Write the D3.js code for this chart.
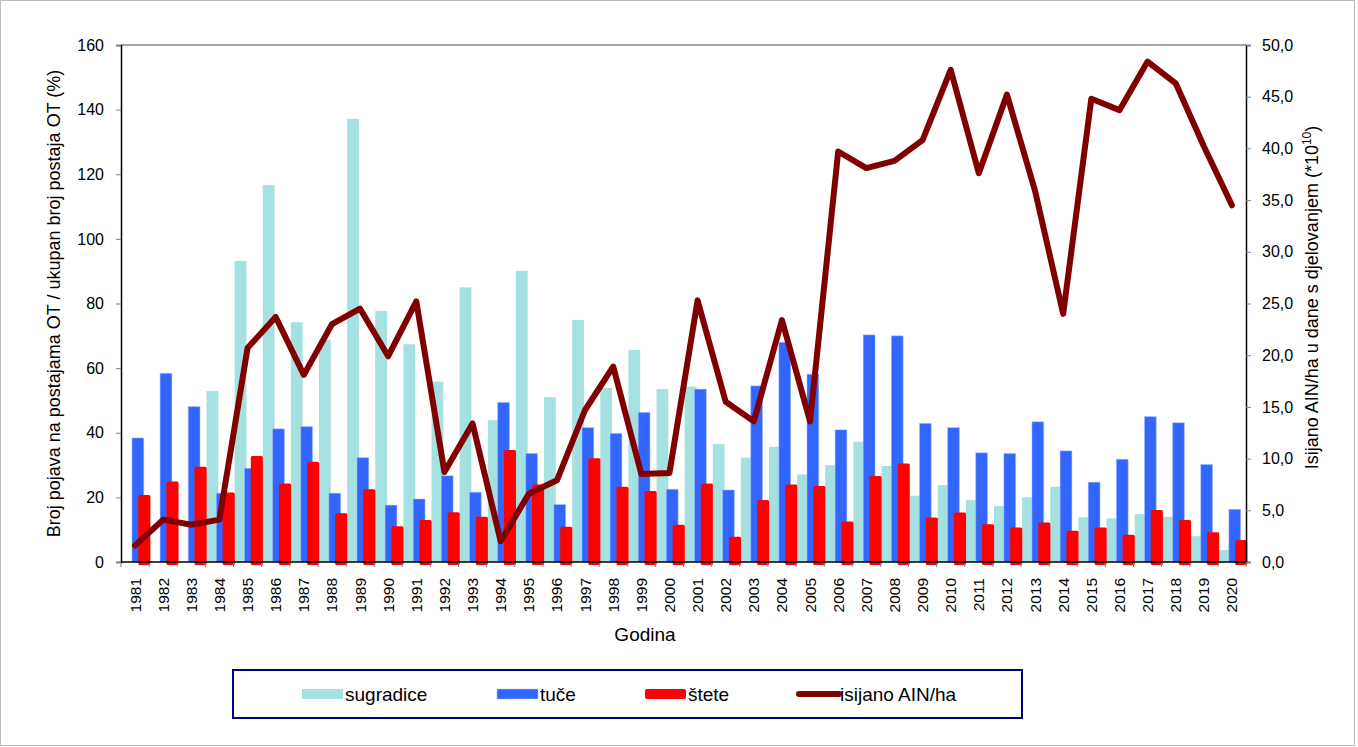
<!DOCTYPE html>
<html>
<head>
<meta charset="utf-8">
<script src="https://cdn.jsdelivr.net/npm/d3@7"></script>
<style>
  body { margin: 0; background: #fff; }
  svg { font-family: "Liberation Sans", Arial, sans-serif; }
</style>
</head>
<body>
<svg width="1358" height="747"></svg>
<script>
const years = d3.range(1981, 2021).map(String);

const sugradice = [0, 0, 0, 52.9, 93.2, 116.7, 74.2, 68.7, 137.1, 77.7,
    67.4, 55.8, 85.0, 43.9, 90.1, 51.0, 74.9, 53.9, 65.6, 53.5,
    54.3, 36.5, 32.3, 35.7, 27.1, 30.0, 37.2, 29.7, 20.5, 23.8,
    19.2, 17.3, 20.0, 23.3, 13.8, 13.5, 14.8, 14.0, 8.0, 3.7];

const tuce = [38.4, 58.4, 48.1, 21.3, 29.0, 41.2, 41.9, 21.3, 32.3, 17.6,
    19.5, 26.7, 21.6, 49.4, 33.6, 17.8, 41.6, 39.8, 46.3, 22.5,
    53.5, 22.3, 54.5, 68.0, 58.1, 40.9, 70.3, 70.0, 42.9, 41.6,
    33.8, 33.6, 43.4, 34.4, 24.7, 31.8, 45.0, 43.1, 30.2, 16.3];

const stete = [20.7, 24.9, 29.5, 21.5, 32.8, 24.3, 31.0, 15.1, 22.5, 11.1,
    13.0, 15.4, 14.0, 34.7, 24.0, 10.9, 32.1, 23.3, 22.0, 11.5,
    24.3, 7.8, 19.2, 24.0, 23.5, 12.5, 26.6, 30.5, 13.8, 15.3,
    11.7, 10.7, 12.2, 9.7, 10.7, 8.4, 16.1, 13.0, 9.2, 6.8];

const ain = [1.6, 4.1, 3.6, 4.1, 20.7, 23.7, 18.1, 23.0, 24.5, 19.9,
    25.2, 8.7, 13.4, 2.0, 6.6, 7.9, 14.7, 18.9, 8.5, 8.6,
    25.3, 15.5, 13.6, 23.4, 13.6, 39.7, 38.1, 38.8, 40.8, 47.6,
    37.6, 45.2, 35.9, 24.0, 44.8, 43.7, 48.4, 46.3, 40.2, 34.5];

const leftTicks = d3.range(0, 161, 20);
const rightTicks = d3.range(0, 51, 5);
const legendItems = ["sugradice", "tuče", "štete", "isijano AIN/ha"];

var svg = d3.select("svg");
var pLeft = 121, pRight = 1246, pTop = 45, pBottom = 562;

// chart area border
svg.append("rect")
    .attr("x", 0.5).attr("y", 0.5)
    .attr("width", 1354).attr("height", 745)
    .attr("fill", "none").attr("stroke", "#bdbdbd");

var x = d3.scaleBand().domain(years).range([pLeft, pRight]).padding(0);
var y = d3.scaleLinear().domain([0, 160]).range([pBottom, pTop]);
var y2 = d3.scaleLinear().domain([0, 50]).range([pBottom, pTop]);
var bw = x.bandwidth();

// plot top border
svg.append("line")
    .attr("x1", pLeft).attr("x2", pRight).attr("y1", pTop).attr("y2", pTop)
    .attr("stroke", "#a6a6a6").attr("stroke-width", 2);

var bars = svg.append("g");
years.forEach((yr, i) => {
    bars.append("rect")
        .attr("x", x(yr) + bw * 0.04)
        .attr("y", y(sugradice[i]))
        .attr("width", bw * 0.42)
        .attr("height", pBottom - y(sugradice[i]))
        .attr("fill", "#a6e1e1");
});
years.forEach((yr, i) => {
    bars.append("rect")
        .attr("x", x(yr) + bw * 0.39)
        .attr("y", y(tuce[i]))
        .attr("width", bw * 0.42)
        .attr("height", pBottom - y(tuce[i]))
        .attr("fill", "#3366ff")
        .attr("stroke", "#a9c0ff")
        .attr("stroke-dasharray", "1,1");
});
years.forEach((yr, i) => {
    bars.append("rect")
        .attr("x", x(yr) + bw * 0.615)
        .attr("y", y(stete[i]))
        .attr("width", bw * 0.43)
        .attr("height", pBottom - y(stete[i]) + 3)
        .attr("rx", 1.5)
        .attr("fill", "#ff0000");
});

// axes
var yAxis = svg.append("g")
    .attr("transform", `translate(${pLeft},0)`)
    .call(d3.axisLeft(y).tickValues(leftTicks).tickSize(5).tickPadding(12));
var yAxis2 = svg.append("g")
    .attr("transform", `translate(${pRight},0)`)
    .call(d3.axisRight(y2).tickValues(rightTicks).tickSize(5).tickPadding(11)
        .tickFormat(d => d3.format(".1f")(d).replace(".", ",")));
[yAxis, yAxis2].forEach(a => {
    a.select(".domain").attr("stroke", "#000").attr("stroke-width", 1.5);
    a.selectAll(".tick line").attr("stroke", "#808080");
    a.selectAll("text").attr("font-size", 16).attr("fill", "#000")
        .attr("font-family", "Liberation Sans, Arial, sans-serif");
});

var xAxis = svg.append("g");
xAxis.selectAll("line.tk")
    .data(years.concat(["end"]))
    .enter().append("line")
    .attr("x1", d => d === "end" ? pRight : x(d))
    .attr("x2", d => d === "end" ? pRight : x(d))
    .attr("y1", pBottom).attr("y2", pBottom + 5)
    .attr("stroke", "#808080");
xAxis.append("line")
    .attr("x1", pLeft).attr("x2", pRight).attr("y1", pBottom).attr("y2", pBottom)
    .attr("stroke", "#000").attr("stroke-width", 1.5);
xAxis.selectAll("text")
    .data(years)
    .enter().append("text")
    .attr("transform", d => `translate(${x(d) + bw / 2 + 5.5},578) rotate(-90)`)
    .attr("text-anchor", "end")
    .attr("font-size", 15.5)
    .text(d => d);

// line
var line = d3.line()
    .x((d, i) => x(years[i]) + bw / 2)
    .y(d => y2(d));
svg.append("path")
    .datum(ain)
    .attr("d", line)
    .attr("fill", "none")
    .attr("stroke", "#800000")
    .attr("stroke-width", 6)
    .attr("stroke-linejoin", "round")
    .attr("stroke-linecap", "round");

// axis titles
svg.append("text")
    .attr("transform", `translate(60,${(pTop + pBottom) / 2}) rotate(-90)`)
    .attr("text-anchor", "middle")
    .attr("font-size", 18)
    .text("Broj pojava na postajama OT / ukupan broj postaja OT (%)");

var t2 = svg.append("text")
    .attr("transform", `translate(1318,${(pTop + pBottom) / 2 - 6}) rotate(-90)`)
    .attr("text-anchor", "middle")
    .attr("font-size", 18);
t2.append("tspan").text("Isijano AIN/ha u dane s djelovanjem (*10");
t2.append("tspan").attr("font-size", 12).attr("dy", -7).text("10");
t2.append("tspan").attr("dy", 7).text(")");

svg.append("text")
    .attr("x", 645).attr("y", 641)
    .attr("text-anchor", "middle")
    .attr("font-size", 19)
    .text("Godina");

// legend
var lg = svg.append("g");
lg.append("rect")
    .attr("x", 233).attr("y", 670).attr("width", 789).attr("height", 48)
    .attr("fill", "#fff").attr("stroke", "#000080").attr("stroke-width", 2);
var lx = [302, 497, 645, 797];
legendItems.forEach((name, i) => {
    if (i === 3) {
        lg.append("line")
            .attr("x1", lx[i] + 2).attr("x2", lx[i] + 42)
            .attr("y1", 694).attr("y2", 694)
            .attr("stroke", "#800000").attr("stroke-width", 6)
            .attr("stroke-linecap", "round");
    } else {
        lg.append("rect")
            .attr("x", lx[i]).attr("y", 689).attr("width", 41).attr("height", 10)
            .attr("rx", i === 2 ? 2 : 0)
            .attr("fill", ["#a6e1e1", "#3366ff", "#ff0000"][i])
            .attr("stroke", i === 1 ? "#a9c0ff" : "none")
            .attr("stroke-dasharray", "1,1");
    }
    lg.append("text")
        .attr("x", lx[i] + 43).attr("y", 701)
        .attr("font-size", 19)
        .text(name);
});
</script>
</body>
</html>
